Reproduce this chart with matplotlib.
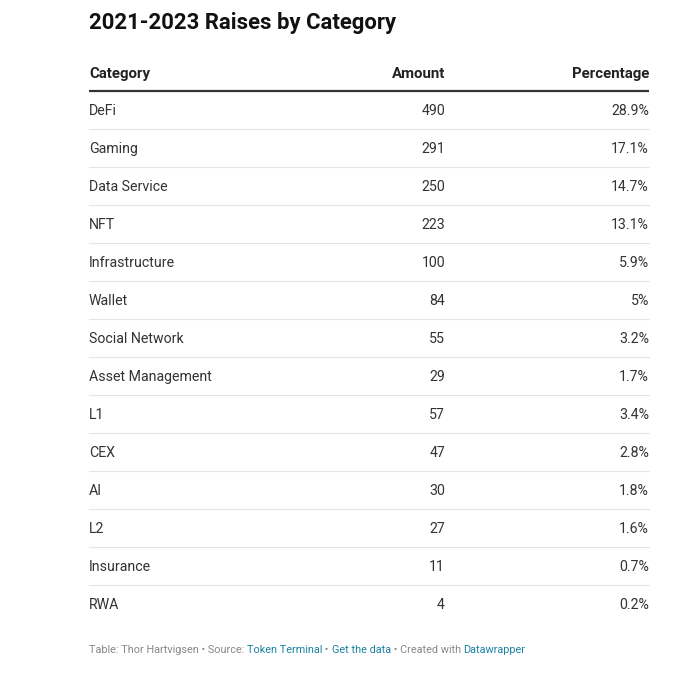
import matplotlib
matplotlib.use("Agg")
import matplotlib.pyplot as plt

categories = ["DeFi", "Gaming", "Data Service", "NFT", "Infrastructure", "Wallet",
              "Social Network", "Asset Management", "L1", "CEX", "AI", "L2",
              "Insurance", "RWA"]
amounts = [490, 291, 250, 223, 100, 84, 55, 29, 57, 47, 30, 27, 11, 4]
percentages = ["28.9%", "17.1%", "14.7%", "13.1%", "5.9%", "5%", "3.2%", "1.7%",
               "3.4%", "2.8%", "1.8%", "1.6%", "0.7%", "0.2%"]
headers = ["Category", "Amount", "Percentage"]
title = "2021-2023 Raises by Category"

plt.rcParams['font.family'] = ['Roboto', 'DejaVu Sans']

W, H = 699, 675
fig = plt.figure(figsize=(W / 100, H / 100), dpi=100)
ax = fig.add_axes([0, 0, 1, 1])
ax.set_xlim(0, W)
ax.set_ylim(H, 0)
ax.axis("off")

left, col2, right = 89, 445, 649
ax.text(left, 22.5, title, fontsize=15.9, fontweight="bold", color="#111111",
        va="center", ha="left")

hy = 74
hs = 10.8
ax.text(left, hy, headers[0], fontsize=hs, fontweight="bold", color="#222222", va="center", ha="left")
ax.text(col2, hy, headers[1], fontsize=hs, fontweight="bold", color="#222222", va="center", ha="right")
ax.text(right, hy, headers[2], fontsize=hs, fontweight="bold", color="#222222", va="center", ha="right")
ax.plot([left, right], [91, 91], color="#333333", lw=1.6, solid_capstyle="butt")

y0, step = 111, 38
for i, (c, a, p) in enumerate(zip(categories, amounts, percentages)):
    y = y0 + i * step
    ax.text(left, y, c, fontsize=10.2, color="#333333", va="center", ha="left")
    ax.text(col2, y, str(a), fontsize=10.2, color="#333333", va="center", ha="right")
    ax.text(right, y, p, fontsize=10.2, color="#333333", va="center", ha="right")
    if i < len(categories) - 1:
        ax.plot([left, right], [y + 18, y + 18], color="#e6e6e6", lw=0.8)

# footer
pieces = [("Table: Thor Hartvigsen • Source: ", "#888888"),
          ("Token Terminal", "#1d81a2"),
          (" • ", "#888888"),
          ("Get the data", "#1d81a2"),
          (" • Created with ", "#888888"),
          ("Datawrapper", "#1d81a2")]
renderer = fig.canvas.get_renderer()
x = left
for s, col in pieces:
    t = ax.text(x, 650, s, fontsize=7.85, color=col, va="center", ha="left")
    bb = t.get_window_extent(renderer=renderer)
    x += bb.width

fig.savefig("out.png", dpi=100)
